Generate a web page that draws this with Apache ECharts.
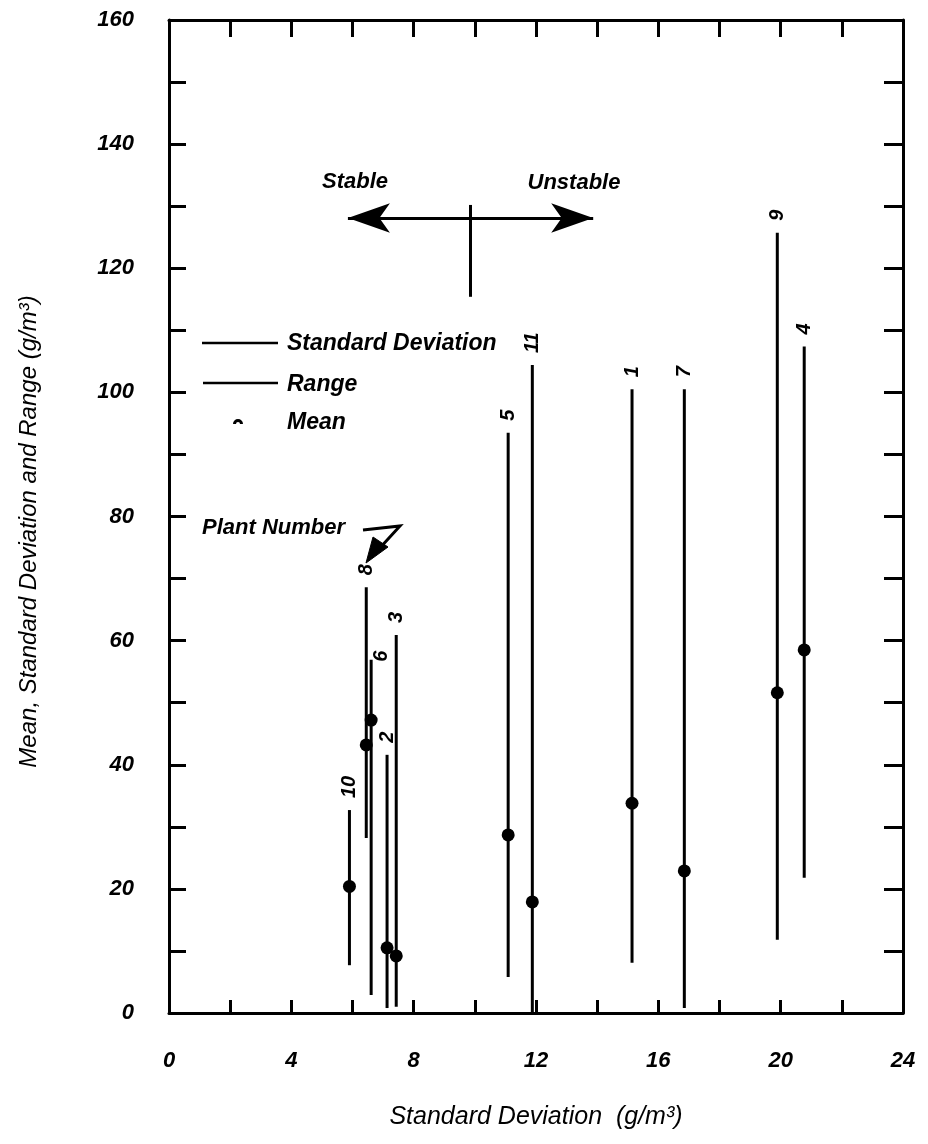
<!DOCTYPE html>
<html>
<head>
<meta charset="utf-8">
<script src="https://cdn.jsdelivr.net/npm/echarts@6/dist/echarts.min.js"></script>
<style>
  html, body { margin: 0; padding: 0; background: #fff; }
  #chart { width: 928px; height: 1144px; }
</style>
</head>
<body>
<div id="chart"></div>
<script>
// ---- data ----
const plants   = ['1', '2', '3', '4', '5', '6', '7', '8', '9', '10', '11'];
const stdDev   = [15.14, 7.13, 7.43, 20.77, 11.09, 6.61, 16.85, 6.45, 19.89, 5.90, 11.88];
const rangeMin = [8.1, 0.8, 1.0, 21.8, 5.8, 2.9, 0.8, 28.2, 11.8, 7.7, 0.0];
const rangeMax = [100.5, 41.6, 60.9, 107.4, 93.5, 56.9, 100.5, 68.6, 125.7, 32.7, 104.4];
const means    = [33.8, 10.5, 9.2, 58.5, 28.7, 47.2, 22.9, 43.2, 51.6, 20.4, 17.9];

const xTicks = { min: 0, max: 24, interval: 2, labelEvery: 4 };
const yTicks = { min: 0, max: 160, interval: 10, labelEvery: 20 };

// stability arrow (data units): centre x, arrow y, left/right tips, vertical bar
const stabilityCentre = 9.85;
const stabilityY = 128.1;
const stabilityEnds = [5.85, 13.87];
const stabilityBar = [115.4, 130.2];

// ---- styling ----
const FONT = '"Liberation Sans", Arial, sans-serif';
const NARROW = '"Liberation Sans Narrow", "Liberation Sans", Arial, sans-serif';
const black = '#000';
const labelShift = { '6': [10, 14] };

const rangeData = plants.map((p, i) => [stdDev[i], rangeMin[i], rangeMax[i], p]);
const meanData = plants.map((p, i) => [stdDev[i], means[i]]);

const axisLine = { show: true, onZero: false, lineStyle: { color: black, width: 3 } };

const chart = echarts.init(document.getElementById('chart'), null, { renderer: 'canvas' });

chart.setOption({
  backgroundColor: '#fff',
  animation: false,
  grid: { left: 169, right: 25, top: 20, bottom: 131, containLabel: false },
  xAxis: [
    {
      type: 'value', position: 'bottom', min: xTicks.min, max: xTicks.max, interval: xTicks.interval,
      axisLine,
      axisTick: { show: true, inside: true, length: 13, lineStyle: { color: black, width: 3 } },
      splitLine: { show: false },
      axisLabel: {
        margin: 37, color: black, fontSize: 22, fontWeight: 'bold', fontStyle: 'italic', fontFamily: FONT,
        formatter: v => (v % xTicks.labelEvery === 0 ? String(v) : '')
      },
      name: 'Standard Deviation  (g/m³)', nameLocation: 'middle', nameGap: 92,
      nameTextStyle: { color: black, fontSize: 25, fontStyle: 'italic', fontFamily: NARROW }
    },
    {
      type: 'value', position: 'top', min: xTicks.min, max: xTicks.max, interval: xTicks.interval,
      axisLine,
      axisTick: { show: true, inside: true, length: 17, lineStyle: { color: black, width: 3 } },
      splitLine: { show: false }, axisLabel: { show: false }
    }
  ],
  yAxis: [
    {
      type: 'value', position: 'left', min: yTicks.min, max: yTicks.max, interval: yTicks.interval,
      axisLine,
      axisTick: { show: true, inside: true, length: 17, lineStyle: { color: black, width: 3 } },
      splitLine: { show: false },
      axisLabel: {
        margin: 35, color: black, fontSize: 22, fontWeight: 'bold', fontStyle: 'italic', fontFamily: FONT,
        formatter: v => (v % yTicks.labelEvery === 0 ? String(v) : '')
      },
      name: 'Mean, Standard Deviation and Range (g/m³)', nameLocation: 'middle', nameGap: 128,
      nameTextStyle: { color: black, fontSize: 24, fontStyle: 'italic', fontFamily: NARROW, padding: [0, 30, 0, 0] }
    },
    {
      type: 'value', position: 'right', min: yTicks.min, max: yTicks.max, interval: yTicks.interval,
      axisLine,
      axisTick: { show: true, inside: true, length: 19, lineStyle: { color: black, width: 3 } },
      splitLine: { show: false }, axisLabel: { show: false }
    }
  ],
  series: [
    {
      name: 'Range', type: 'custom', xAxisIndex: 0, yAxisIndex: 0, silent: true,
      data: rangeData,
      renderItem: (params, api) => {
        const x = api.value(0), lo = api.value(1), hi = api.value(2);
        const name = plants[params.dataIndex];
        const p1 = api.coord([x, lo]);
        const p2 = api.coord([x, hi]);
        const sh = labelShift[name] || [0, 0];
        return {
          type: 'group',
          children: [
            { type: 'line', shape: { x1: p1[0], y1: p1[1], x2: p2[0], y2: p2[1] },
              style: { stroke: black, lineWidth: 3 } },
            { type: 'text', x: p2[0] + sh[0], y: p2[1] - 12 + sh[1], rotation: Math.PI / 2,
              style: { text: name, textAlign: 'left', textVerticalAlign: 'middle',
                       font: 'italic bold 20px ' + FONT, fill: black } }
          ]
        };
      }
    },
    {
      name: 'Mean', type: 'scatter', xAxisIndex: 0, yAxisIndex: 0, silent: true,
      data: meanData, symbol: 'circle', symbolSize: 13,
      itemStyle: { color: black, opacity: 1 }
    },
    {
      name: 'Stability', type: 'scatter', xAxisIndex: 0, yAxisIndex: 0, silent: true, data: [],
      markLine: {
        silent: true, animation: false,
        label: { show: false },
        lineStyle: { color: black, width: 3, type: 'solid' },
        emphasis: { disabled: true },
        symbol: ['none', 'none'],
        data: [
          [ { coord: [stabilityCentre, stabilityY], symbol: 'none' },
            { coord: [stabilityEnds[0], stabilityY], symbol: 'arrow', symbolSize: [22, 42] } ],
          [ { coord: [stabilityCentre, stabilityY], symbol: 'none' },
            { coord: [stabilityEnds[1], stabilityY], symbol: 'arrow', symbolSize: [22, 42] } ],
          [ { coord: [stabilityCentre, stabilityBar[0]], symbol: 'none' },
            { coord: [stabilityCentre, stabilityBar[1]], symbol: 'none' } ]
        ]
      }
    }
  ],
  graphic: [
    { type: 'text', x: 355, y: 182, style: { text: 'Stable', textAlign: 'center', textVerticalAlign: 'middle', font: 'italic bold 22px ' + FONT, fill: black } },
    { type: 'text', x: 574, y: 183, style: { text: 'Unstable', textAlign: 'center', textVerticalAlign: 'middle', font: 'italic bold 22px ' + FONT, fill: black } },
    // legend
    { type: 'line', shape: { x1: 202, y1: 343, x2: 278, y2: 343 }, style: { stroke: black, lineWidth: 2.5 } },
    { type: 'text', x: 287, y: 344, style: { text: 'Standard Deviation', textVerticalAlign: 'middle', font: 'italic bold 23px ' + FONT, fill: black } },
    { type: 'line', shape: { x1: 203, y1: 383, x2: 278, y2: 383 }, style: { stroke: black, lineWidth: 2.5 } },
    { type: 'text', x: 287, y: 385, style: { text: 'Range', textVerticalAlign: 'middle', font: 'italic bold 23px ' + FONT, fill: black } },
    { type: 'arc', shape: { cx: 238, cy: 424, r: 3.5, startAngle: Math.PI, endAngle: 2 * Math.PI }, style: { stroke: black, lineWidth: 3, fill: null } },
    { type: 'text', x: 287, y: 423, style: { text: 'Mean', textVerticalAlign: 'middle', font: 'italic bold 23px ' + FONT, fill: black } },
    // plant number pointer
    { type: 'text', x: 202, y: 528, style: { text: 'Plant Number', textVerticalAlign: 'middle', font: 'italic bold 22px ' + FONT, fill: black } },
    { type: 'polyline', shape: { points: [[363, 530], [400, 526], [378, 550]] }, style: { stroke: black, lineWidth: 3, fill: null } },
    { type: 'polygon', shape: { points: [[366, 563], [388, 547], [373, 537]] }, style: { fill: black, stroke: black, lineWidth: 1 } }
  ]
});
</script>
</body>
</html>
